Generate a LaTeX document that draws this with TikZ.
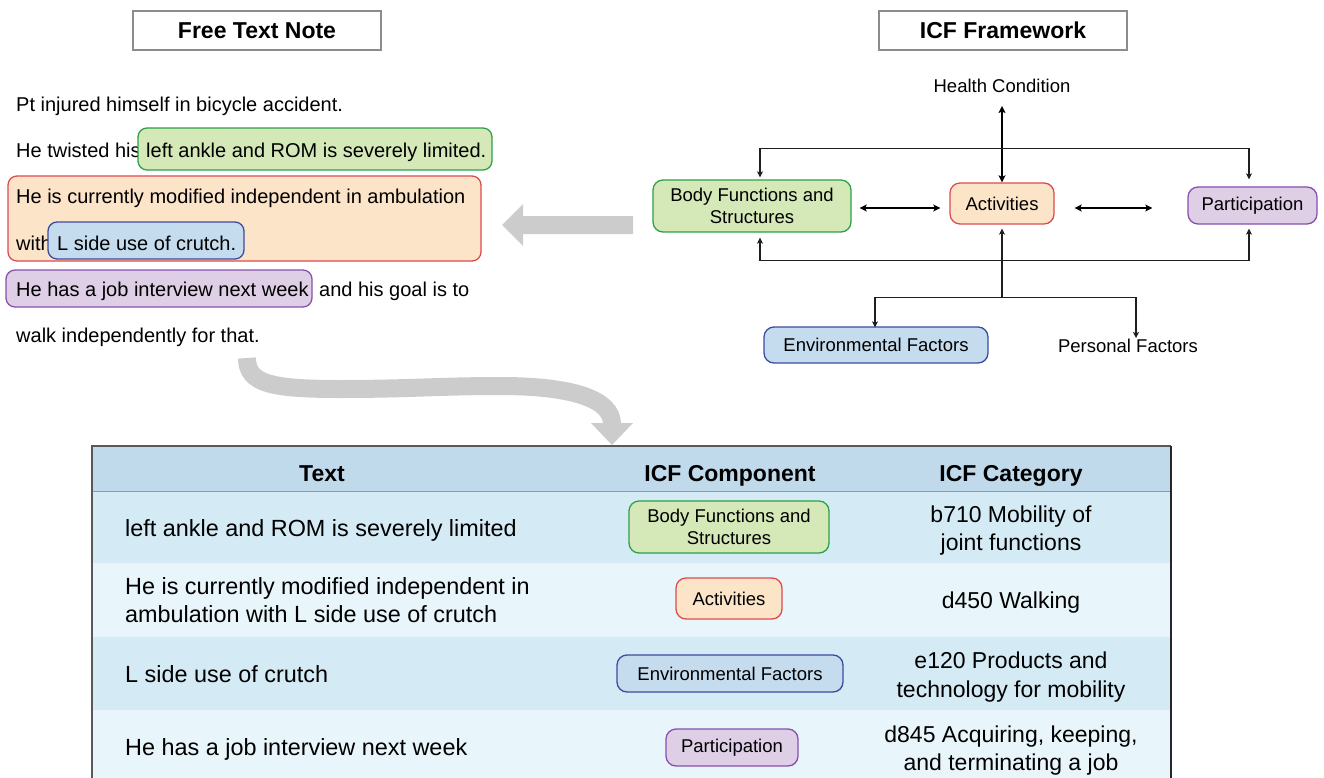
\documentclass[tikz,border=0pt]{standalone}
\usepackage{fontspec}
\setmainfont{Liberation Sans}
\usetikzlibrary{arrows.meta}

\definecolor{greenfill}{RGB}{213,232,183}
\definecolor{greenline}{RGB}{45,160,75}
\definecolor{orangefill}{RGB}{252,228,200}
\definecolor{orangeline}{RGB}{220,75,80}
\definecolor{bluefill}{RGB}{196,220,238}
\definecolor{blueline}{RGB}{60,75,160}
\definecolor{purplefill}{RGB}{222,206,230}
\definecolor{purpleline}{RGB}{135,80,175}
\definecolor{hdrfill}{RGB}{192,218,236}
\definecolor{rowdark}{RGB}{212,235,246}
\definecolor{rowlight}{RGB}{232,245,251}
\definecolor{flowgray}{RGB}{204,204,204}
\definecolor{titlegray}{RGB}{140,140,140}
\definecolor{wire}{RGB}{30,30,30}

\begin{document}
\begin{tikzpicture}[x=1pt,y=-1pt,
  notetext/.style={anchor=base west, inner sep=0pt, font=\fontsize{20}{24}\selectfont},
  titlebox/.style={draw=titlegray, line width=1.2pt, minimum width=248pt, minimum height=39pt,
    inner sep=0pt, font=\fontsize{23}{28}\selectfont\bfseries},
  hlbase/.style={line width=1.3pt, rounded corners=9pt},
  hlgreen/.style={hlbase, fill=greenfill, draw=greenline},
  hlorange/.style={hlbase, fill=orangefill, draw=orangeline},
  hlblue/.style={hlbase, fill=bluefill, draw=blueline},
  hlpurple/.style={hlbase, fill=purplefill, draw=purpleline},
  icf/.style={rounded corners=10pt, line width=1.3pt, inner sep=0pt, align=center,
    font=\fontsize{18.5}{22}\selectfont},
  icfgreen/.style={icf, fill=greenfill, draw=greenline},
  icforange/.style={icf, fill=orangefill, draw=orangeline},
  icfblue/.style={icf, fill=bluefill, draw=blueline},
  icfpurple/.style={icf, fill=purplefill, draw=purpleline},
  plainlabel/.style={inner sep=0pt, font=\fontsize{18.5}{22}\selectfont},
  conn/.style={draw=wire, line width=1.3pt, {Stealth[length=6pt,width=6pt,inset=1.5pt]}-{Stealth[length=6pt,width=6pt,inset=1.5pt]}},
  oneway/.style={draw=wire, line width=1.3pt, -{Stealth[length=6pt,width=6pt,inset=1.5pt]}},
  backway/.style={draw=wire, line width=1.3pt, {Stealth[length=6pt,width=6pt,inset=1.5pt]}-},
  heavy/.style={draw=black, line width=2pt, {Stealth[length=7pt,width=7pt,inset=1.5pt]}-{Stealth[length=7pt,width=7pt,inset=1.5pt]}},
  hdrtext/.style={anchor=base, inner sep=0pt, font=\fontsize{23}{28}\selectfont\bfseries},
  celltext/.style={anchor=base west, inner sep=0pt, font=\fontsize{23.4}{28}\selectfont},
  cattext/.style={anchor=base, inner sep=0pt, font=\fontsize{23}{28}\selectfont}
]
\useasboundingbox (0,0) rectangle (1324,778);

% ---------- titles ----------
\node[titlebox] (ttlnote) at (257,30.5) {Free Text Note};
\node[titlebox] (ttlicf) at (1003,30.5) {ICF Framework};

% ---------- free text note ----------
\node[notetext] (l1) at (16,112) {Pt injured himself in bicycle accident.};
\node[notetext] (l2) at (16,158) {He twisted his};
\path[hlgreen] (138,128) rectangle (492,170);
\node[notetext] (l2b) at (146,158) {left ankle and ROM is severely limited.};

\path[hlorange] (8,176) rectangle (481,261);
\node[notetext] (l3) at (16,204) {He is currently modified independent in ambulation};
\node[notetext] (l4) at (16,250) {with};
\path[hlblue] (48,222) rectangle (244,259);
\node[notetext] (l4b) at (57,250) {L side use of crutch.};

\path[hlpurple] (6,270) rectangle (312,307);
\node[notetext] (l5) at (16,296) {He has a job interview next week};
\node[notetext] (l5b) at (319,296) {and his goal is to};
\node[notetext] (l6) at (16,342) {walk independently for that.};

% ---------- block arrows ----------
\fill[flowgray] (502,225) -- (523,204) -- (523,216) -- (633,216) -- (633,234)
  -- (523,234) -- (523,246) -- cycle;
\draw[flowgray, line width=18pt] (247,358) .. controls (247,384) and (272,389) .. (340,389)
  .. controls (410,389) and (440,386) .. (500,386)
  .. controls (575,386) and (612,400) .. (612,424);
\fill[flowgray] (591,423) -- (633,423) -- (612,445) -- cycle;

% ---------- ICF framework ----------
\node[plainlabel] (hc) at (1002,86) {Health Condition};
\node[icfgreen, minimum width=198pt, minimum height=52pt] (bf) at (752,206) {Body Functions and\\Structures};
\node[icforange, minimum width=104pt, minimum height=41pt] (act) at (1002,203.5) {Activities};
\node[icfpurple, minimum width=129pt, minimum height=37pt] (par) at (1252.5,205.5) {Participation};
\node[icfblue, minimum width=224pt, minimum height=36pt] (env) at (876,345) {Environmental Factors};
\node[plainlabel] (pf) at (1128,346) {Personal Factors};

\draw[heavy, shorten <=13pt] (hc.south) -- (act.north);
\draw[conn, shorten <=2pt, shorten >=7pt] ([xshift=8pt]bf.north) -- ++(0,-31) -| ([xshift=-3.5pt]par.north);
\draw[conn, shorten <=5pt, shorten >=4pt] ([xshift=8pt]bf.south) -- ++(0,28) -| ([xshift=-3.5pt]par.south);
\draw[heavy, shorten <=8pt, shorten >=9pt] ([yshift=-2pt]bf.east) -- ([yshift=-4.5pt]act.west);
\draw[heavy, shorten <=20pt, shorten >=35pt] ([yshift=-4.5pt]act.east) -- ([yshift=-2.5pt]par.west);
\draw[backway, shorten <=4pt] (act.south) -- ++(0,73) coordinate (fork);
\draw[oneway, shorten >=-1pt] (fork) -| ([xshift=-1pt]env.north);
\draw[oneway, shorten >=1pt] (fork) -| ([xshift=8pt]pf.north);

% ---------- table ----------
\fill[hdrfill] (92,446) rectangle (1171,491);
\fill[rowdark] (92,491) rectangle (1171,563);
\fill[rowlight] (92,563) rectangle (1171,637);
\fill[rowdark] (92,637) rectangle (1171,710);
\fill[rowlight] (92,710) rectangle (1171,790);
\draw[black!40, line width=1pt] (92,491) -- (1171,491);
\draw[black!65, line width=2pt] (92,790) -- (92,446) -- (1171,446);
\draw[black!85, line width=1.2pt] (1171,446) -- (1171,790);

\node[hdrtext] (hText) at (322,481) {Text};
\node[hdrtext] (hComp) at (730,481) {ICF Component};
\node[hdrtext] (hCat) at (1011,481) {ICF Category};

\node[celltext] (t1) at (125,536) {left ankle and ROM is severely limited};
\node[celltext] (t2a) at (125,594) {He is currently modified independent in};
\node[celltext] (t2b) at (125,622) {ambulation with L side use of crutch};
\node[celltext] (t3) at (125,682) {L side use of crutch};
\node[celltext] (t4) at (125,755) {He has a job interview next week};

\node[icfgreen, minimum width=200pt, minimum height=52pt] (cbf) at (729,527) {Body Functions and\\Structures};
\node[icforange, minimum width=106pt, minimum height=41pt] (cact) at (729,598.5) {Activities};
\node[icfblue, minimum width=226pt, minimum height=37pt] (cenv) at (730,673.5) {Environmental Factors};
\node[icfpurple, minimum width=132pt, minimum height=37pt] (cpar) at (732,747.5) {Participation};

\node[cattext] (k1a) at (1011,522) {b710 Mobility of};
\node[cattext] (k1b) at (1011,550) {joint functions};
\node[cattext] (k2) at (1011,608) {d450 Walking};
\node[cattext] (k3a) at (1011,668) {e120 Products and};
\node[cattext] (k3b) at (1011,697) {technology for mobility};
\node[cattext] (k4a) at (1011,742) {d845 Acquiring, keeping,};
\node[cattext] (k4b) at (1011,770) {and terminating a job};
\end{tikzpicture}
\end{document}
